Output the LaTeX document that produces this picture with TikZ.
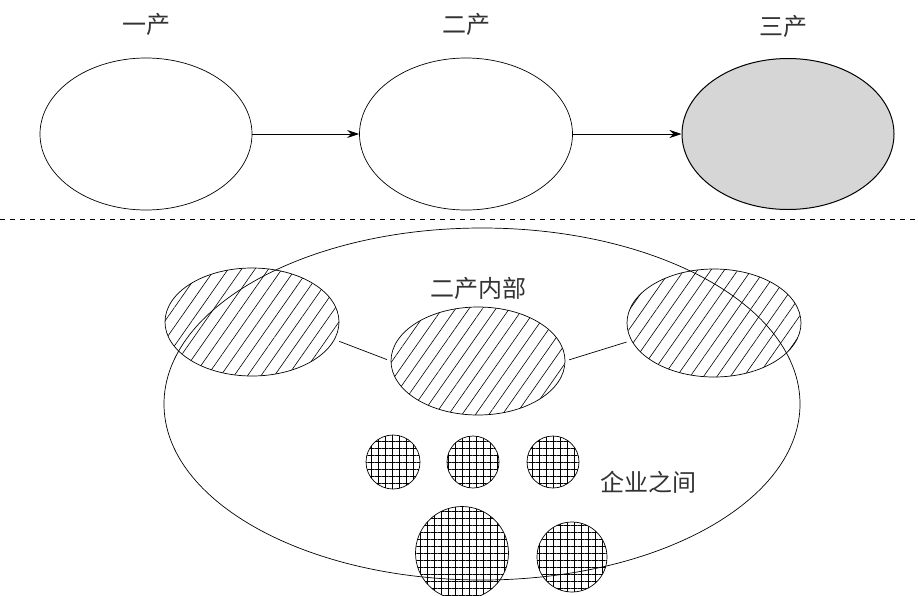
\documentclass[tikz,border=0pt]{standalone}
\usepackage{fontspec}
\newfontfamily\cjk{Noto Sans CJK SC}
\usetikzlibrary{shapes.geometric,patterns.meta,arrows.meta}
\definecolor{tertiary}{RGB}{214,214,214}
\begin{document}
\begin{tikzpicture}[x=1pt,y=-1pt,
  oval/.style={ellipse,draw,line width=0.7pt,inner sep=0pt},
  lbl/.style={font=\cjk\fontsize{24}{24}\selectfont,inner sep=0pt,text=black!80},
  hatchov/.style={oval,minimum width=174pt,minimum height=108pt,
    pattern={Lines[angle=55,distance=11pt,line width=0.6pt]}},
  gridc/.style={circle,draw,line width=0.7pt,inner sep=0pt,
    preaction={pattern={Lines[angle=90,distance=7pt,line width=0.7pt]}},
    pattern={Lines[angle=0,distance=7pt,line width=0.7pt]}},
  flow/.style={-{Stealth[length=12pt,width=8pt]},line width=0.8pt},
  link/.style={line width=0.7pt}]
\useasboundingbox (0,0) rectangle (918,595);
% top row
\node[oval,minimum width=212pt,minimum height=152pt] (e1) at (146,134) {};
\node[oval,minimum width=213pt,minimum height=152pt] (e2) at (466,134) {};
\node[oval,line width=1pt,fill=tertiary,minimum width=212pt,minimum height=151pt] (e3) at (788,134) {};
\node[lbl] (l1) at (146,24) {一产};
\node[lbl] (l2) at (466,24) {二产};
\node[lbl] (l3) at (783,26) {三产};
\draw[flow] (e1) -- (e2);
\draw[flow] (e2) -- (e3);
% divider
\coordinate (dl) at (0,219);
\coordinate (dr) at (918,219);
\draw[dash pattern=on 5pt off 5pt,line width=0.7pt] (dl) -- (dr);
% bottom
\node[hatchov] (h1) at (252,322) {};
\node[hatchov] (h2) at (478,361) {};
\node[hatchov] (h3) at (714,323) {};
\node[oval,minimum width=636pt,minimum height=352pt] (big) at (482,404) {};
\draw[link,shorten <=5pt,shorten >=4pt] (h1.-12) -- (h2.180);
\draw[link,shorten <=4pt,shorten >=5pt] (h2.0) -- (h3.192);
\node[lbl] (t1) at (478,288) {二产内部};
\node[gridc,minimum size=54pt] (c1) at (393,462) {};
\node[gridc,minimum size=52pt] (c2) at (473,462) {};
\node[gridc,minimum size=52pt] (c3) at (553,462) {};
\node[gridc,minimum size=93pt] (c4) at (462,553) {};
\node[gridc,minimum size=70pt] (c5) at (572,557) {};
\node[lbl] (t2) at (648,482) {企业之间};
\end{tikzpicture}
\end{document}
